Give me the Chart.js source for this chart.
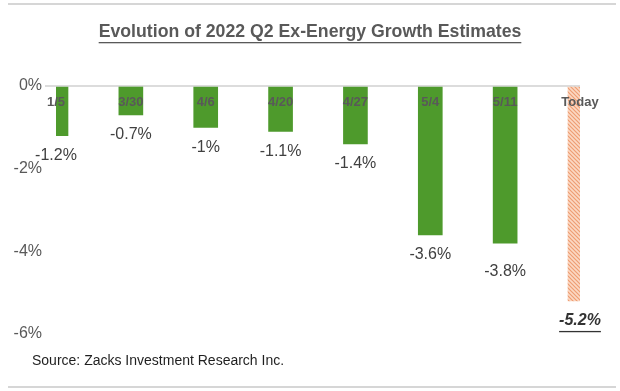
<!DOCTYPE html>
<html>
<head>
<meta charset="utf-8">
<script src="https://cdn.jsdelivr.net/npm/chart.js@4/dist/chart.umd.min.js"></script>
<style>
  html, body { margin: 0; padding: 0; background: #fff; }
  #wrap { width: 620px; height: 391px; }
</style>
</head>
<body>
<div id="wrap"><canvas id="chart" width="620" height="391"></canvas></div>
<script>
const categories = ['1/5', '3/30', '4/6', '4/20', '4/27', '5/4', '5/11', 'Today'];
const growth = [-1.2, -0.7, -1.0, -1.1, -1.4, -3.6, -3.8, -5.2];
const valueLabels = ['-1.2%', '-0.7%', '-1%', '-1.1%', '-1.4%', '-3.6%', '-3.8%', '-5.2%'];
const yTicks = [0, -2, -4, -6];

const titleText = 'Evolution of 2022 Q2 Ex-Energy Growth Estimates';
const sourceText = 'Source: Zacks Investment Research Inc.';

// hatched fill for the "Today" bar
function makeHatch() {
  const c = document.createElement('canvas');
  c.width = 4; c.height = 4;
  const g = c.getContext('2d');
  g.fillStyle = '#fbd9c4';
  g.fillRect(0, 0, 4, 4);
  g.strokeStyle = '#ee9d73';
  g.lineWidth = 1.2;
  g.beginPath();
  g.moveTo(-1, -1); g.lineTo(5, 5);
  g.moveTo(-1, 3); g.lineTo(1, 5);
  g.moveTo(3, -1); g.lineTo(5, 1);
  g.stroke();
  return g.createPattern(c, 'repeat');
}

const ctx = document.getElementById('chart').getContext('2d');
const hatch = makeHatch();
const colors = categories.map((c, i) => i === categories.length - 1 ? hatch : '#4e9a2c');

const decor = {
  id: 'decor',
  afterDraw(chart) {
    const c = chart.ctx;
    const xs = chart.scales.x;
    const ys = chart.scales.y;
    c.save();

    // frame lines
    c.fillStyle = '#d6d6d6';
    c.fillRect(8, 3, 608, 2);
    c.fillRect(8, 386, 608, 2);

    // title with underline
    c.font = 'bold 17.7px "Liberation Sans", Arial, sans-serif';
    c.fillStyle = '#595959';
    c.textAlign = 'center';
    c.textBaseline = 'middle';
    c.fillText(titleText, 310, 32);
    const tw = c.measureText(titleText).width;
    c.fillRect(310 - tw / 2, 42, tw, 1.3);

    // category labels just under the zero line
    c.font = 'bold 13px "Liberation Sans", Arial, sans-serif';
    c.fillStyle = '#595959';
    const zeroY = ys.getPixelForValue(0);
    categories.forEach((cat, i) => {
      c.fillText(cat, xs.getPixelForValue(i), zeroY + 16);
    });

    // value labels below the bars
    const last = categories.length - 1;
    growth.forEach((v, i) => {
      const x = xs.getPixelForValue(i);
      const y = ys.getPixelForValue(v) + (i === 6 ? 29 : 20);
      if (i === last) {
        c.font = 'italic bold 16px "Liberation Sans", Arial, sans-serif';
        c.fillStyle = '#333333';
        c.fillText(valueLabels[i], x, y);
        const w = c.measureText(valueLabels[i]).width;
        c.fillRect(x - w / 2, y + 10, w, 1.3);
      } else {
        c.font = '16px "Liberation Sans", Arial, sans-serif';
        c.fillStyle = '#404040';
        c.fillText(valueLabels[i], x, y);
      }
    });

    // source note
    c.font = '14px "Liberation Sans", Arial, sans-serif';
    c.fillStyle = '#1f1f1f';
    c.textAlign = 'left';
    c.fillText(sourceText, 32, 361);

    c.restore();
  }
};

new Chart(ctx, {
  type: 'bar',
  data: {
    labels: categories,
    datasets: [{
      data: growth,
      backgroundColor: colors,
      borderWidth: 0,
      barThickness: 24,
      clip: 0
    }]
  },
  options: {
    responsive: false,
    animation: false,
    events: [],
    layout: { padding: { top: 86, bottom: 57, left: 6, right: 40 } },
    plugins: {
      legend: { display: false },
      tooltip: { enabled: false }
    },
    scales: {
      x: {
        display: false,
        offset: false
      },
      y: {
        min: -6,
        max: 0,
        afterFit(scale) { scale.width = 50; },
        afterBuildTicks(scale) { scale.ticks = yTicks.map(v => ({ value: v })); },
        border: { display: false },
        grid: {
          drawTicks: true,
          tickLength: 11,
          lineWidth: 2,
          color: c => c.tick && c.tick.value === 0 ? '#dcdcdc' : 'rgba(0,0,0,0)',
          tickColor: c => c.tick && c.tick.value === 0 ? '#dcdcdc' : 'rgba(0,0,0,0)'
        },
        ticks: {
          padding: 3,
          color: '#595959',
          font: { family: '"Liberation Sans", Arial, sans-serif', size: 16 },
          callback: v => v + '%'
        }
      }
    }
  },
  plugins: [decor]
});
</script>
</body>
</html>
